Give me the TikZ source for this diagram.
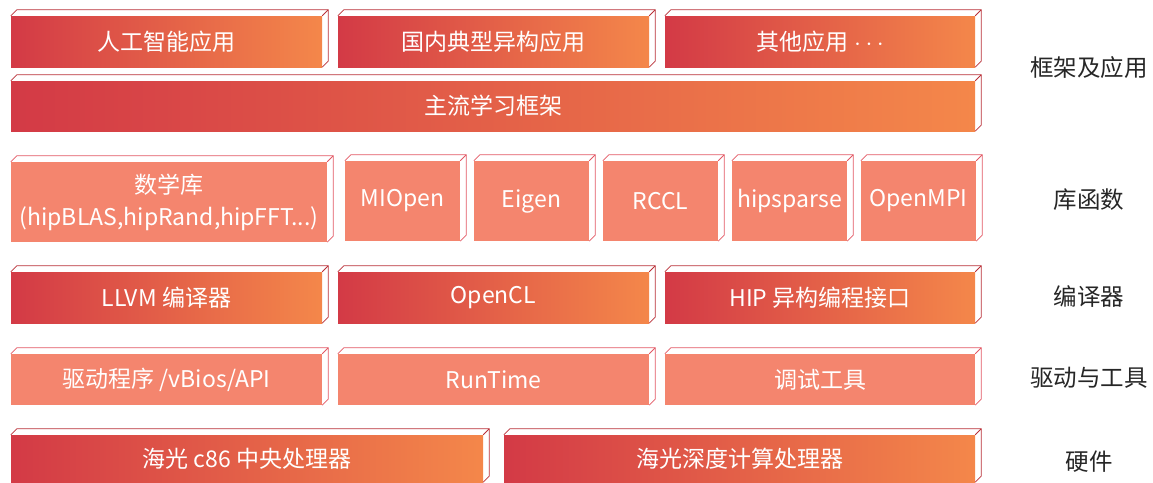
\documentclass[tikz,border=0pt]{standalone}
\usepackage{fontspec}
\setmainfont{Noto Sans CJK SC}
\usetikzlibrary{positioning}
\definecolor{hgred}{RGB}{211,58,70}
\definecolor{hgorange}{RGB}{244,135,74}
\definecolor{hgsalmon}{RGB}{244,133,110}
\definecolor{edgedark}{RGB}{185,48,56}
\definecolor{edgelight}{RGB}{226,88,100}
\definecolor{labelgray}{RGB}{38,38,38}

\tikzset{
  gradbox/.style={rectangle, inner sep=0pt, left color=hgred, right color=hgorange, text=white, align=center, font=\fontsize{23}{28}\selectfont},
  flatbox/.style={rectangle, inner sep=0pt, fill=hgsalmon, text=white, align=center, font=\fontsize{23}{32}\selectfont},
  layerlabel/.style={text=labelgray, font=\fontsize{23.5}{28}\selectfont},
  face/.style={line width=0.8pt}
}

\begin{document}
\begin{tikzpicture}[x=1pt, y=-1pt]
\useasboundingbox (0,0) rectangle (1153,482);

% Framework and applications
\node[gradbox, minimum width=311, minimum height=51] (ai) at (166.5,41.5) {人工智能应用};
\node[gradbox, minimum width=311, minimum height=51] (hetero) at (493.5,41.5) {国内典型异构应用};
\node[gradbox, minimum width=310, minimum height=51] (other) at (820,41.5) {其他应用\hspace{6pt}${\cdot}\hspace{4.5pt}{\cdot}\hspace{4.5pt}{\cdot}$};
\node[gradbox, minimum width=964, minimum height=50] (mainfw) at (493,106) {主流学习框架};

% Libraries
\node[flatbox, minimum width=316, minimum height=80] (mathlib) at (169,202) {数学库\\(hipBLAS,hipRand,hipFFT...)};
\node[flatbox, minimum width=115, minimum height=80] (miopen) at (402.5,201) {MIOpen};
\node[flatbox, minimum width=115, minimum height=80] (eigen) at (531.5,201) {Eigen};
\node[flatbox, minimum width=115, minimum height=80] (rccl) at (660.5,201) {RCCL};
\node[flatbox, minimum width=115, minimum height=80] (hipsparse) at (789.5,201) {hipsparse};
\node[flatbox, minimum width=115, minimum height=80] (openmpi) at (918.5,201) {OpenMPI};

% Compilers
\node[gradbox, minimum width=311, minimum height=51] (llvm) at (166.5,297.5) {LLVM 编译器};
\node[gradbox, minimum width=311, minimum height=51] (opencl) at (493.5,297.5) {OpenCL};
\node[gradbox, minimum width=310, minimum height=51] (hip) at (820,297.5) {HIP 异构编程接口};

% Drivers and tools
\node[flatbox, minimum width=311, minimum height=51] (driver) at (166.5,379.5) {驱动程序 /vBios/API};
\node[flatbox, minimum width=311, minimum height=51] (runtime) at (493.5,379.5) {RunTime};
\node[flatbox, minimum width=310, minimum height=51] (debug) at (820,379.5) {调试工具};

% Hardware
\node[gradbox, minimum width=472, minimum height=47] (cpu) at (247,458.5) {海光 c86 中央处理器};
\node[gradbox, minimum width=471, minimum height=47] (dcu) at (739.5,458.5) {海光深度计算处理器};

% top and side faces
\foreach \b/\c in {ai/edgedark, hetero/edgedark, other/edgedark, mainfw/edgedark,
    mathlib/edgelight, miopen/edgelight, eigen/edgelight, rccl/edgelight, hipsparse/edgelight, openmpi/edgelight,
    llvm/edgedark, opencl/edgedark, hip/edgedark,
    driver/edgelight, runtime/edgelight, debug/edgelight,
    cpu/edgedark, dcu/edgedark} {
  \draw[face, draw=\c] (\b.north west) -- ++(6,-6) -- ([shift={(6,-6)}]\b.north east)
    -- ([shift={(6,-6)}]\b.south east) -- (\b.south east);
  \draw[face, draw=\c] (\b.north east) -- ++(6,-6);
}

% Layer names
\node[layerlabel] (lfw) at (1089,68) {框架及应用};
\node[layerlabel] (llib) at (1089,200) {库函数};
\node[layerlabel] (lcomp) at (1089,297) {编译器};
\node[layerlabel] (ldrv) at (1089,378) {驱动与工具};
\node[layerlabel] (lhw) at (1089,462) {硬件};
\end{tikzpicture}
\end{document}
